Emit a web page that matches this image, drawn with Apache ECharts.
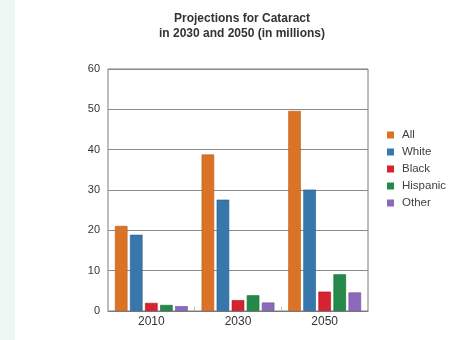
<!DOCTYPE html>
<html>
<head>
<meta charset="utf-8">
<script src="https://cdn.jsdelivr.net/npm/echarts@6/dist/echarts.min.js"></script>
<style>
  html, body { margin: 0; padding: 0; background: #ffffff; }
  #wrap { position: relative; width: 456px; height: 340px; background: #ffffff; }
  #strip { position: absolute; left: 0; top: 0; width: 15px; height: 340px; background: #eef6f3; }
  #chart { position: absolute; left: 0; top: 0; width: 456px; height: 340px; }
</style>
</head>
<body>
<div id="wrap">
  <div id="strip"></div>
  <div id="chart"></div>
</div>
<script>
// Projected cataract cases, millions
const years = ['2010', '2030', '2050'];
const allPeople = [21.1, 38.8, 49.6];
const white = [18.9, 27.6, 30.1];
const black = [2.0, 2.7, 4.8];
const hispanic = [1.5, 3.9, 9.1];
const other = [1.2, 2.1, 4.6];
const yTicks = [0, 10, 20, 30, 40, 50, 60];

const seriesDefs = [
  { name: 'All', data: allPeople, color: '#db7327', edge: '#b85d1c' },
  { name: 'White', data: white, color: '#3877ab', edge: '#2a5d88' },
  { name: 'Black', data: black, color: '#d7222f', edge: '#a81822' },
  { name: 'Hispanic', data: hispanic, color: '#25894a', edge: '#1b6a38' },
  { name: 'Other', data: other, color: '#8c69bb', edge: '#6d4f98' }
];

const FONT = 'Liberation Sans, Arial, sans-serif';

const chart = echarts.init(document.getElementById('chart'), null, { renderer: 'canvas' });
chart.setOption({
  animation: false,
  backgroundColor: 'transparent',
  title: {
    text: 'Projections for Cataract\nin 2030 and 2050 (in millions)',
    left: 237,
    textAlign: 'center',
    top: 6,
    textStyle: {
      fontFamily: FONT,
      fontSize: 12,
      fontWeight: 'bold',
      color: '#333333',
      lineHeight: 15
    }
  },
  legend: {
    orient: 'vertical',
    left: 382,
    top: 124,
    itemWidth: 7,
    itemHeight: 7,
    itemGap: 5,
    icon: 'rect',
    itemStyle: { borderWidth: 0 },
    data: seriesDefs.map(s => s.name),
    textStyle: {
      fontFamily: FONT,
      fontSize: 11.5,
      color: '#404040',
      padding: [0, 0, 0, 3]
    }
  },
  grid: {
    left: 108,
    right: 88,
    top: 69,
    bottom: 29,
    show: true,
    borderColor: '#7a7a7a',
    borderWidth: 1,
    containLabel: false
  },
  xAxis: {
    type: 'category',
    data: years,
    axisLine: { show: true, lineStyle: { color: '#7a7a7a', width: 1 } },
    axisTick: { show: true, inside: true, length: 4, lineStyle: { color: '#bbbbbb' } },
    axisLabel: {
      fontFamily: FONT,
      fontSize: 12,
      color: '#333333',
      margin: 5
    }
  },
  yAxis: {
    type: 'value',
    min: yTicks[0],
    max: yTicks[yTicks.length - 1],
    interval: 10,
    axisLine: { show: false },
    axisTick: { show: false },
    splitLine: { show: true, lineStyle: { color: '#8a8a8a', width: 1 } },
    axisLabel: {
      fontFamily: FONT,
      fontSize: 11,
      color: '#333333',
      margin: 8
    }
  },
  series: seriesDefs.map(s => ({
    name: s.name,
    type: 'bar',
    data: s.data,
    barGap: '20%',
    barCategoryGap: '16%',
    itemStyle: { color: s.color, borderColor: s.edge, borderWidth: 0.6 }
  }))
});
</script>
</body>
</html>
